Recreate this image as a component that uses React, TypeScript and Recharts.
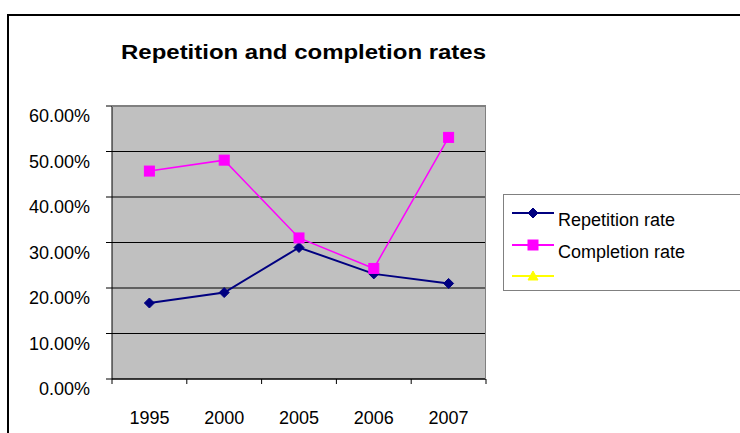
import React from "react";
import { LineChart, Line, XAxis, YAxis, CartesianGrid } from "recharts";

const years = ["1995", "2000", "2005", "2006", "2007"];
const repetitionRate = [0.167, 0.19, 0.289, 0.231, 0.21];
const completionRate = [0.457, 0.481, 0.31, 0.243, 0.531];
const yTicks = [0, 0.1, 0.2, 0.3, 0.4, 0.5, 0.6];

const legendItems = [
  { name: "Repetition rate", color: "#000080", shape: "diamond" },
  { name: "Completion rate", color: "#FF00FF", shape: "square" },
  { name: "", color: "#FFFF00", shape: "triangle" },
];

const data = years.map((year, i) => ({
  year,
  repetition: repetitionRate[i],
  completion: completionRate[i],
}));

const FONT = "'Liberation Sans', Arial, sans-serif";
const PLOT_LEFT = 112;
const PLOT_RIGHT = 486;
const BAND = (PLOT_RIGHT - PLOT_LEFT) / years.length;

function Marker({ shape, color, cx, cy }: { shape: string; color: string; cx: number; cy: number }) {
  if (shape === "diamond") {
    return <polygon points={`${cx},${cy - 5} ${cx + 5},${cy} ${cx},${cy + 5} ${cx - 5},${cy}`} fill={color} stroke={color} />;
  }
  if (shape === "square") {
    return <rect x={cx - 5} y={cy - 5} width={10} height={10} fill={color} stroke={color} />;
  }
  return <polygon points={`${cx},${cy - 5} ${cx + 5},${cy + 4} ${cx - 5},${cy + 4}`} fill={color} stroke={color} />;
}

const DiamondDot = (props: any) => {
  const { cx, cy, index } = props;
  if (cx == null || cy == null) return null;
  return <Marker key={index} shape="diamond" color="#000080" cx={cx} cy={cy} />;
};

const SquareDot = (props: any) => {
  const { cx, cy, index } = props;
  if (cx == null || cy == null) return null;
  return <Marker key={index} shape="square" color="#FF00FF" cx={cx} cy={cy} />;
};

const YTick = (props: any) => {
  const { x, y, payload } = props;
  return (
    <text x={x} y={y} dy={16} textAnchor="end" fontSize={18} fill="#000" fontFamily={FONT}>
      {(payload.value * 100).toFixed(2) + "%"}
    </text>
  );
};

const XTick = (props: any) => {
  const { x, payload, index } = props;
  const top = 379;
  return (
    <g>
      <line x1={x - BAND / 2} x2={x - BAND / 2} y1={top} y2={top + 5} stroke="#000" />
      {index === years.length - 1 && (
        <line x1={x + BAND / 2} x2={x + BAND / 2} y1={top} y2={top + 5} stroke="#000" />
      )}
      <text x={x} y={424} textAnchor="middle" fontSize={18} fill="#000" fontFamily={FONT}>
        {payload.value}
      </text>
    </g>
  );
};

const LegendBox = () => (
  <div
    style={{
      position: "absolute",
      left: 503,
      top: 194,
      width: 260,
      height: 95,
      border: "1px solid #808080",
      background: "#fff",
      fontFamily: FONT,
    }}
  >
    {legendItems.map((item, i) => (
      <div key={i} style={{ position: "absolute", left: 0, top: 8 + i * 31.5, height: 30, width: 260 }}>
        <svg width={50} height={20} style={{ position: "absolute", left: 6, top: 0 }}>
          <line x1={2} x2={44} y1={10} y2={10} stroke={item.color} strokeWidth={2} />
          <Marker shape={item.shape} color={item.color} cx={23} cy={10} />
        </svg>
        <span style={{ position: "absolute", left: 54, top: 7, fontSize: 18, color: "#000", whiteSpace: "nowrap" }}>
          {item.name}
        </span>
      </div>
    ))}
  </div>
);

export default function App() {
  return (
    <div style={{ position: "absolute", left: 0, top: 0, width: 740, height: 433, overflow: "hidden", background: "#fff" }}>
      <div
        style={{
          position: "absolute",
          left: 7,
          top: 14,
          width: 780,
          height: 460,
          border: "2px solid #000",
        }}
      />
      <svg width={740} height={80} style={{ position: "absolute", left: 0, top: 0 }}>
        <text
          x={121}
          y={59}
          fontSize={20}
          fontWeight="bold"
          fontFamily={FONT}
          textLength={365}
          lengthAdjust="spacingAndGlyphs"
          fill="#000"
        >
          Repetition and completion rates
        </text>
      </svg>
      <div style={{ position: "absolute", left: 0, top: 0 }}>
        <LineChart width={740} height={433} data={data} margin={{ top: 106, right: 740 - PLOT_RIGHT, bottom: 0, left: 0 }}>
          <CartesianGrid vertical={false} fill="#C0C0C0" stroke="#000" strokeWidth={1} />
          <XAxis
            dataKey="year"
            height={54}
            axisLine={{ stroke: "#000" }}
            tickLine={false}
            tick={<XTick />}
            padding={{ left: BAND / 2, right: BAND / 2 }}
            interval={0}
          />
          <YAxis
            width={PLOT_LEFT}
            domain={[0, 0.6]}
            ticks={yTicks}
            axisLine={{ stroke: "#000" }}
            tickLine={{ stroke: "#000" }}
            tickSize={6}
            tickMargin={16}
            tick={<YTick />}
            interval={0}
          />
          <Line
            type="linear"
            dataKey="repetition"
            name="Repetition rate"
            stroke="#000080"
            strokeWidth={2}
            dot={<DiamondDot />}
            isAnimationActive={false}
          />
          <Line
            type="linear"
            dataKey="completion"
            name="Completion rate"
            stroke="#FF00FF"
            strokeWidth={1.5}
            dot={<SquareDot />}
            isAnimationActive={false}
          />
        </LineChart>
      </div>
      <div
        style={{
          position: "absolute",
          left: PLOT_LEFT,
          top: 106,
          width: PLOT_RIGHT - PLOT_LEFT - 1,
          height: 272,
          borderTop: "1px solid #808080",
          borderRight: "1px solid #808080",
          pointerEvents: "none",
        }}
      />
      <LegendBox />
    </div>
  );
}
